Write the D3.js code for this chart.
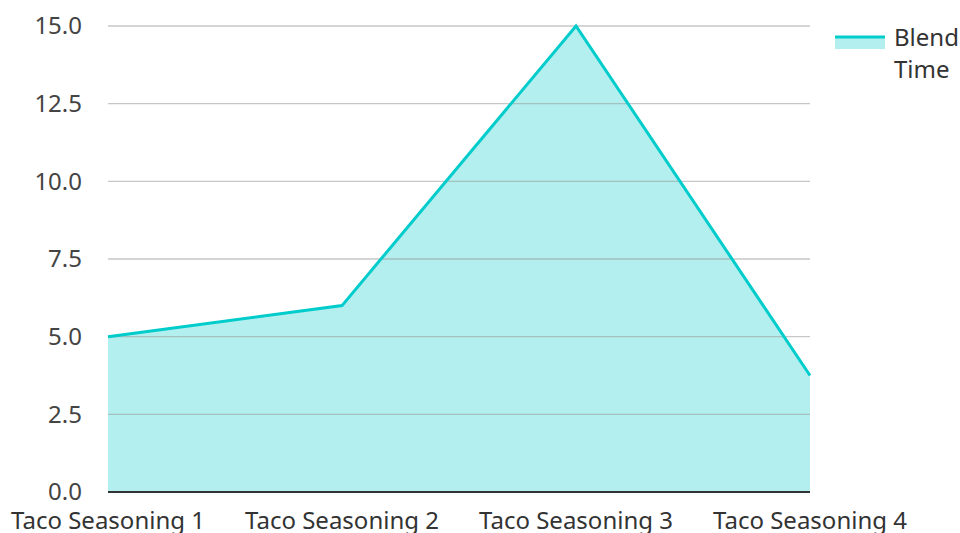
<!DOCTYPE html>
<html><head><meta charset="utf-8">
<script src="https://cdn.jsdelivr.net/npm/d3@7"></script>
<style>body{margin:0;background:#fff}svg{display:block}text{font-family:"Noto Sans","Open Sans",sans-serif}</style>
</head><body>
<svg id="c" width="960" height="533"></svg>
<script>
const categories = ["Taco Seasoning 1","Taco Seasoning 2","Taco Seasoning 3","Taco Seasoning 4"];
const blendTime = [5, 6, 15, 3.75];
const yTicks = [0, 2.5, 5, 7.5, 10, 12.5, 15];
const seriesName = ["Blend", "Time"];

(function(){
const svg = d3.select("#c");
const mLeft = 108, mRight = 810, mTop = 26, mBottom = 492;
const fs = 24;
const x = d3.scalePoint().domain(categories).range([mLeft, mRight]);
const y = d3.scaleLinear().domain([0, 15]).range([mBottom, mTop]);
const data = categories.map((c, i) => ({c, v: blendTime[i]}));

const area = d3.area().x(d => x(d.c)).y0(y(0)).y1(d => y(d.v));
const line = d3.line().x(d => x(d.c)).y(d => y(d.v));

svg.append("path").datum(data).attr("d", area).attr("fill", "#b2efee");

// grid
svg.append("g").selectAll("line").data(yTicks.filter(t => t > 0)).join("line")
  .attr("x1", mLeft).attr("x2", mRight).attr("y1", d => y(d)).attr("y2", d => y(d))
  .attr("stroke", "#999").attr("stroke-opacity", 0.55).attr("stroke-width", 1.3);

svg.append("path").datum(data).attr("d", line).attr("fill", "none")
  .attr("stroke", "#00cccc").attr("stroke-width", 3).attr("stroke-linejoin", "miter");

// baseline
svg.append("line").attr("x1", mLeft).attr("x2", mRight).attr("y1", y(0)).attr("y2", y(0))
  .attr("stroke", "#333").attr("stroke-width", 2);

// y labels
svg.append("g").selectAll("text").data(yTicks).join("text")
  .attr("x", 82).attr("y", d => y(d)).attr("dy", "0.35em").attr("text-anchor", "end")
  .attr("font-size", fs).attr("fill", "#444").text(d => d.toFixed(1));

// x labels
svg.append("g").selectAll("text").data(categories).join("text")
  .attr("x", d => x(d)).attr("y", 529).attr("text-anchor", "middle")
  .attr("font-size", fs).attr("fill", "#333").text(d => d);

// legend
const lg = svg.append("g");
lg.append("rect").attr("x", 835).attr("y", 36).attr("width", 50).attr("height", 13).attr("fill", "#b2efee");
lg.append("line").attr("x1", 835).attr("x2", 885).attr("y1", 37).attr("y2", 37).attr("stroke", "#00cccc").attr("stroke-width", 3);
lg.selectAll("text").data(seriesName).join("text")
  .attr("x", 894).attr("y", (d, i) => 46 + i * 32).attr("font-size", fs).attr("fill", "#333").text(d => d);
})();
</script>
</body></html>
